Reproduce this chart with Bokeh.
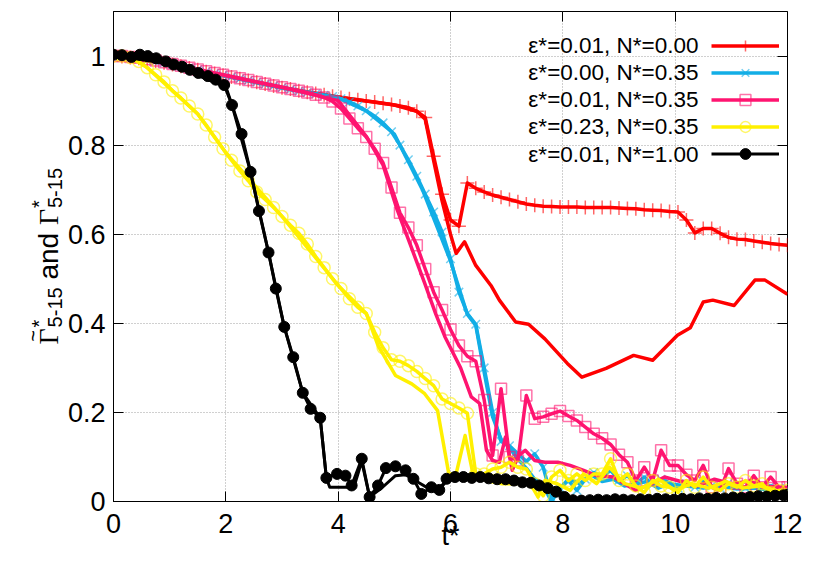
from bokeh.plotting import figure
from bokeh.layouts import row
from bokeh.models import (Range1d, FixedTicker, LinearAxis, CustomJSTickFormatter,
                          Label, Legend, LegendItem)
from bokeh.embed import file_html
from bokeh.resources import INLINE
import math

# ---------------- data ----------------
T = [0.00, 0.15, 0.30, 0.45, 0.60, 0.75, 0.90, 1.05, 1.20, 1.35, 1.50, 1.65, 1.80, 1.95,
     2.10, 2.25, 2.40, 2.55, 2.70, 2.85, 3.00, 3.15, 3.30, 3.45, 3.60, 3.75, 3.90, 4.05,
     4.20, 4.35, 4.50, 4.65, 4.80, 4.95, 5.10, 5.25, 5.40, 5.55, 5.70, 5.85, 6.00, 6.15,
     6.30, 6.45, 6.60, 6.75, 6.90, 7.05, 7.20, 7.35, 7.50, 7.65, 7.80, 7.95, 8.10, 8.25,
     8.40, 8.55, 8.70, 8.85, 9.00, 9.15, 9.30, 9.45, 9.60, 9.75, 9.90, 10.05, 10.20, 10.35,
     10.50, 10.65, 10.80, 10.95, 11.10, 11.25, 11.40, 11.55, 11.70, 11.85, 12.00]

# eps*=0.01, N*=0.00  (red)
RED_M = [1.000, 0.999, 0.997, 0.995, 0.992, 0.989, 0.985, 0.981, 0.977, 0.973, 0.969, 0.965,
         0.961, 0.957, 0.953, 0.949, 0.945, 0.941, 0.937, 0.933, 0.929, 0.926, 0.922, 0.919,
         0.916, 0.913, 0.910,
         0.907, 0.904, 0.902, 0.899, 0.897, 0.894, 0.891, 0.888, 0.884, 0.876, 0.862, 0.775, 0.690,
         0.632, 0.618, 0.715, 0.703, 0.695, 0.688, 0.683, 0.678, 0.673, 0.668, 0.665, 0.663, 0.662,
         0.661, 0.661, 0.661, 0.660, 0.660, 0.660, 0.660, 0.659, 0.658, 0.657, 0.655, 0.654, 0.653, 0.651,
         0.650, 0.632, 0.603, 0.613, 0.613, 0.602, 0.593, 0.589, 0.588, 0.585, 0.582, 0.579, 0.577, 0.575]
RED_P_T = [0, 1.0, 2.0, 3.0, 4.0, 5.0, 5.4, 5.55, 5.7, 5.85, 6.0, 6.1, 6.25, 6.45, 6.72, 6.87,
           7.16, 7.39, 7.68, 8.08, 8.34, 8.77, 9.26, 9.6, 10.04, 10.27, 10.5, 10.67, 11.05,
           11.42, 11.6, 12.0]
RED_P = [1.0, 0.982, 0.955, 0.929, 0.908, 0.890, 0.876, 0.858, 0.765, 0.675, 0.600, 0.557,
         0.583, 0.530, 0.485, 0.452, 0.403, 0.398, 0.365, 0.310, 0.279, 0.299, 0.328, 0.317,
         0.373, 0.390, 0.448, 0.452, 0.440, 0.497, 0.497, 0.465]

# eps*=0.00, N*=0.35  (cyan)
CYA_M = [1.000, 0.999, 0.997, 0.995, 0.992, 0.989, 0.985, 0.981, 0.977, 0.973, 0.969, 0.965,
         0.961, 0.957, 0.953, 0.949, 0.945, 0.941, 0.937, 0.933, 0.929, 0.925, 0.921, 0.918,
         0.915, 0.912, 0.909,
         0.904, 0.897, 0.888, 0.877, 0.865, 0.850, 0.830, 0.800, 0.767, 0.730, 0.690, 0.650, 0.605,
         0.545, 0.470, 0.422, 0.398, 0.300, 0.200, 0.135, 0.125, 0.107, 0.090, 0.107, 0.077, 0.008,
         0.030, 0.047, 0.025, 0.050, 0.065, 0.055, 0.070, 0.048, 0.058, 0.040, 0.055, 0.038, 0.050, 0.042,
         0.030, 0.040, 0.032, 0.045, 0.035, 0.030, 0.042, 0.035, 0.030, 0.038, 0.028, 0.035, 0.030, 0.028]
CYA_P_T = [0, 1, 2, 3, 4, 4.5, 5.0, 5.5, 6.0, 6.3, 6.45, 6.6, 6.75, 6.9, 7.05, 7.2, 7.35, 7.5,
           7.65, 7.8, 7.95, 8.1, 8.3, 8.5, 8.7, 8.9, 9.1, 9.3, 9.5, 9.7, 9.9, 10.2, 10.5, 10.8,
           11.1, 11.4, 11.7, 12.0]
CYA_P = [1.0, 0.981, 0.955, 0.929, 0.906, 0.877, 0.825, 0.70, 0.54, 0.42, 0.395, 0.29, 0.19,
         0.14, 0.12, 0.095, 0.075, 0.05, 0.035, 0.0, 0.03, 0.05, 0.04, 0.06, 0.045, 0.05, 0.035,
         0.04, 0.045, 0.03, 0.04, 0.035, 0.03, 0.035, 0.028, 0.03, 0.025, 0.027]

# eps*=0.01, N*=0.35  (pink)
PNK_M = [1.000, 1.000, 0.998, 0.996, 0.993, 0.990, 0.986, 0.982, 0.978, 0.974, 0.970, 0.966,
         0.962, 0.958, 0.954, 0.950, 0.946, 0.942, 0.938, 0.934, 0.930, 0.926, 0.922, 0.918,
         0.913, 0.907, 0.898,
         0.882, 0.860, 0.838, 0.818, 0.792, 0.760, 0.705, 0.648, 0.615, 0.575, 0.522, 0.470, 0.430,
         0.386, 0.350, 0.326, 0.315, 0.228, 0.103, 0.253, 0.100, 0.092, 0.238, 0.186, 0.190, 0.197,
         0.203, 0.192, 0.182, 0.167, 0.152, 0.142, 0.128, 0.105, 0.088, 0.047, 0.077, 0.047, 0.115, 0.081,
         0.081, 0.060, 0.047, 0.081, 0.032, 0.025, 0.074, 0.040, 0.032, 0.058, 0.032, 0.055, 0.032, 0.032]
PNK_P_T = [0, 1, 2, 3, 4, 4.5, 4.8, 5.05, 5.14, 5.31, 5.54, 5.74, 5.9, 6.06, 6.18, 6.37, 6.52,
           6.64, 6.75, 6.87, 6.98, 7.1, 7.21, 7.33, 7.5, 7.68, 7.91, 8.13, 8.37, 8.6, 8.9, 9.29,
           9.58, 9.81, 10.1, 10.4, 10.7, 11.0, 11.3, 11.6, 12.0]
PNK_P = [1.0, 0.982, 0.956, 0.93, 0.90, 0.82, 0.755, 0.655, 0.625, 0.568, 0.49, 0.42, 0.37,
         0.33, 0.30, 0.235, 0.22, 0.115, 0.092, 0.088, 0.145, 0.07, 0.103, 0.115, 0.092, 0.088,
         0.088, 0.081, 0.07, 0.058, 0.055, 0.025, 0.04, 0.055, 0.045, 0.035, 0.05, 0.04, 0.045,
         0.035, 0.03]

# eps*=0.23, N*=0.35  (yellow)
YEL_M = [1.000, 1.000, 0.997, 0.988, 0.974, 0.958, 0.942, 0.922, 0.906, 0.888, 0.870, 0.845,
         0.818, 0.792, 0.766, 0.742, 0.720, 0.695, 0.678, 0.660, 0.640, 0.620, 0.602, 0.578,
         0.550, 0.525, 0.500, 0.478, 0.455, 0.436, 0.422, 0.380, 0.345, 0.318, 0.315, 0.305,
         0.292, 0.276, 0.260, 0.230, 0.220, 0.210, 0.198, 0.062, 0.062, 0.073, 0.077, 0.088,
         0.077, 0.073, 0.040, 0.013, 0.055, 0.070, 0.047, 0.062, 0.047, 0.062, 0.062, 0.096,
         0.047, 0.062, 0.035, 0.020, 0.047, 0.035, 0.032, 0.020, 0.047, 0.032, 0.055, 0.032,
         0.025, 0.040, 0.032, 0.047, 0.035, 0.040, 0.020, 0.025, 0.025]
YEL_P_T = [0, 0.3, 0.6, 1.0, 1.5, 2.0, 3.0, 4.0, 4.5, 4.71, 5.02, 5.31, 5.54, 5.77, 5.97, 6.1,
           6.26, 6.4, 6.64, 6.92, 7.16, 7.39, 7.56, 7.68, 7.9, 8.13, 8.37, 8.6, 8.83, 9.1, 9.4,
           9.7, 10.0, 10.3, 10.6, 10.9, 11.2, 11.5, 11.8, 12.0]
YEL_P = [1.0, 0.997, 0.974, 0.928, 0.870, 0.783, 0.640, 0.485, 0.422, 0.35, 0.283, 0.264,
         0.242, 0.204, 0.062, 0.062, 0.148, 0.062, 0.047, 0.04, 0.04, 0.047, 0.01, 0.047, 0.04,
         0.025, 0.062, 0.04, 0.077, 0.04, 0.03, 0.05, 0.025, 0.04, 0.03, 0.045, 0.03, 0.035,
         0.025, 0.02]

# eps*=0.01, N*=1.00  (black)
BLK_T = [0.00, 0.15, 0.32, 0.47, 0.61, 0.76, 0.93, 1.07, 1.22, 1.36, 1.51, 1.68, 1.82, 1.97,
         2.11, 2.28, 2.44, 2.59, 2.76, 2.89, 3.04, 3.20, 3.37, 3.51, 3.68, 3.79, 3.98, 4.13,
         4.24, 4.42, 4.56, 4.71, 4.85, 5.02, 5.20, 5.34, 5.48, 5.66, 5.80, 5.93, 6.08, 6.23,
         6.38, 6.53, 6.68, 6.83, 6.98, 7.13, 7.28, 7.43, 7.58, 7.73, 7.88, 8.03, 8.18, 8.33,
         8.48, 8.63, 8.78, 8.93, 9.08, 9.23, 9.38, 9.53, 9.68, 9.83, 9.98, 10.13, 10.28, 10.43,
         10.58, 10.73, 10.88, 11.03, 11.18, 11.33, 11.48, 11.63, 11.78, 11.93, 12.00]
BLK_M = [1.003, 1.002, 0.998, 1.003, 1.000, 0.995, 0.988, 0.981, 0.976, 0.969, 0.962, 0.955,
         0.947, 0.935, 0.890, 0.825, 0.740, 0.652, 0.559, 0.478, 0.392, 0.324, 0.244, 0.208,
         0.188, 0.053, 0.062, 0.058, 0.036, 0.096, 0.010, 0.036, 0.075, 0.079, 0.070, 0.051,
         0.017, 0.032, 0.026, 0.051, 0.055, 0.055, 0.053, 0.055, 0.052, 0.050, 0.050, 0.047,
         0.043, 0.042, 0.036, 0.030, 0.022, 0.010, 0.003, 0.002, 0.003, 0.004, 0.003, 0.005,
         0.004, 0.003, 0.005, 0.004, 0.006, 0.005, 0.004, 0.006, 0.005, 0.007, 0.006, 0.008,
         0.007, 0.009, 0.008, 0.010, 0.012, 0.011, 0.013, 0.014, 0.015]
BLK_P_T = [0, 1, 2.0, 2.11, 2.44, 2.76, 3.04, 3.37, 3.68, 3.79, 3.85, 4.16, 4.3, 4.42, 4.56,
           4.79, 5.02, 5.2, 5.4, 5.6, 5.8, 5.95, 6.2, 6.6, 7.0, 7.4, 7.8, 8.1, 8.5, 9.0, 9.5,
           10.0, 10.5, 11.0, 11.5, 12.0]
BLK_P = [1.002, 0.982, 0.931, 0.89, 0.74, 0.559, 0.392, 0.244, 0.188, 0.053, 0.032, 0.032,
         0.04, 0.09, 0.01, 0.032, 0.058, 0.06, 0.045, 0.03, 0.026, 0.05, 0.055, 0.052, 0.05,
         0.042, 0.025, 0.004, 0.003, 0.004, 0.005, 0.005, 0.006, 0.008, 0.011, 0.014]

LABELS = ["ε*=0.01, N*=0.00", "ε*=0.00, N*=0.35", "ε*=0.01, N*=0.35",
          "ε*=0.23, N*=0.35", "ε*=0.01, N*=1.00"]
X_TICKS = [0, 2, 4, 6, 8, 10, 12]
Y_TICKS = [0, 0.2, 0.4, 0.6, 0.8, 1.0]
X_TITLE = "t*"

for a, b in [(T, RED_M), (T, CYA_M), (T, PNK_M), (T, YEL_M), (BLK_T, BLK_M),
             (RED_P_T, RED_P), (CYA_P_T, CYA_P), (PNK_P_T, PNK_P), (YEL_P_T, YEL_P),
             (BLK_P_T, BLK_P)]:
    assert len(a) == len(b), (len(a), len(b))

# ---------------- layout (pixels) ----------------
W, H = 803, 554
LW = 64                                     # width of the y-title strip
FL, FR, FT, FB = 113, 787, 11, 501          # frame edges in page pixels
X0, X1, Y0, Y1 = 0, 12, 0, 1.1


def dx(px):   # page px -> data x (annotation anchors only)
    return X0 + (px - FL) * (X1 - X0) / (FR - FL)


def dy(py):   # page px -> data y (annotation anchors only)
    return Y0 + (FB - py) * (Y1 - Y0) / (FB - FT)


FONT = "Liberation Sans"
SERIF = "Liberation Serif"

# ---------------- y title strip (its own small canvas, frame aligned with main) ----------------
pl = figure(width=LW, height=H, output_backend="svg", toolbar_location=None,
            x_range=Range1d(0, LW), y_range=Range1d(FB, FT),
            x_axis_type=None, y_axis_type=None,
            min_border_left=0, min_border_right=0, min_border_top=FT,
            min_border_bottom=H - FB)
pl.outline_line_color = None
pl.background_fill_color = "white"
pl.border_fill_color = "white"
pl.xgrid.visible = False
pl.ygrid.visible = False

ROT = math.pi / 2
BASE = 48      # baseline x of the main title text
pieces = [
    # text, font, size, baseline x, start y (lower end), align
    ("Γ", SERIF, "28px", BASE, 344, "left"),
    ("~", FONT, "20px", 32, 335.5, "center"),
    ("*", FONT, "20px", 38, 326.9, "left"),
    ("5-15", FONT, "20px", 54, 326.9, "left"),
    ("and", FONT, "28px", BASE, 279.1, "left"),
    ("Γ", SERIF, "28px", BASE, 224.6, "left"),
    ("*", FONT, "20px", 38, 207.5, "left"),
    ("5-15", FONT, "20px", 54, 207.5, "left"),
]
for txt, fnt, fs, bx, sy, al in pieces:
    pl.add_layout(Label(x=bx, y=sy, text=txt, angle=ROT, text_align=al,
                        text_baseline="alphabetic", text_font=fnt, text_font_size=fs,
                        text_color="black"))

# ---------------- main plot ----------------
p = figure(width=W - LW, height=H, output_backend="svg", toolbar_location=None,
           x_range=Range1d(X0, X1), y_range=Range1d(Y0, Y1),
           min_border_left=FL - LW, min_border_right=W - FR, min_border_top=FT,
           min_border_bottom=H - FB)
p.background_fill_color = "white"
p.border_fill_color = "white"
p.outline_line_color = "black"
p.outline_line_width = 1

xa = p.below[0]
xa.ticker = FixedTicker(ticks=X_TICKS)
ya = p.left[0]
ya.ticker = FixedTicker(ticks=Y_TICKS)
ya.formatter = CustomJSTickFormatter(code="return (Math.round(tick*10)/10).toString();")
for ax in (xa, ya):
    ax.major_tick_in = 10
    ax.major_tick_out = 0
    ax.minor_tick_in = 0
    ax.minor_tick_out = 0
    ax.axis_line_color = "black"
    ax.major_tick_line_color = "black"
    ax.major_label_text_font = FONT
    ax.major_label_text_font_size = "27px"
    ax.major_label_text_color = "black"
xa.major_label_standoff = 12
ya.major_label_standoff = 8
xa.axis_label = X_TITLE
xa.axis_label_text_font = FONT
xa.axis_label_text_font_size = "27px"
xa.axis_label_text_font_style = "normal"
xa.axis_label_text_color = "black"
xa.axis_label_standoff = -15

# mirrored ticks on top and right (no labels)
top = LinearAxis(ticker=FixedTicker(ticks=X_TICKS), formatter=CustomJSTickFormatter(code="return '';"),
                 major_tick_in=10, major_tick_out=0, minor_tick_in=0, minor_tick_out=0,
                 axis_line_color=None, major_label_text_font_size="0px", major_label_standoff=0)
right = LinearAxis(ticker=FixedTicker(ticks=Y_TICKS), formatter=CustomJSTickFormatter(code="return '';"),
                   major_tick_in=10, major_tick_out=0, minor_tick_in=0, minor_tick_out=0,
                   axis_line_color=None, major_label_text_font_size="0px", major_label_standoff=0)
p.add_layout(top, "above")
p.add_layout(right, "right")

for g in (p.xgrid[0], p.ygrid[0]):
    g.grid_line_color = "#a0a0a0"
    g.grid_line_dash = "1 2"
    g.grid_line_width = 1

series = [
    (T, RED_M, RED_P_T, RED_P, "#ff0000", "cross", 14, 3.5),
    (T, CYA_M, CYA_P_T, CYA_P, "#12aee6", "x", 12, 3.5),
    (T, PNK_M, PNK_P_T, PNK_P, "#ff1470", "square", 11, 3.5),
    (T, YEL_M, YEL_P_T, YEL_P, "#fff000", "circle", 12, 3.5),
    (BLK_T, BLK_M, BLK_P_T, BLK_P, "#000000", "circle", 11, 3.0),
]
items = []
for (tm, ym, tp, yp, col, mk, sz, lw), lab in zip(series, LABELS):
    p.line(tp, yp, line_color=col, line_width=lw, line_join="round")
    lr = p.line(tm, ym, line_color=col, line_width=lw, line_join="round")
    if col == "#000000":
        sr = p.scatter(tm, ym, marker=mk, size=sz, fill_color=col, line_color=col)
    else:
        sr = p.scatter(tm, ym, marker=mk, size=sz, fill_color=None, line_color=col,
                       line_alpha=0.6, line_width=1.5)
    items.append(LegendItem(label="", renderers=[lr, sr]))

# legend: samples via Legend (right), text via Labels (left), gnuplot style
leg = Legend(items=items, location=(598, 334), orientation="vertical",
             glyph_width=68, glyph_height=27, spacing=0, padding=0, margin=0,
             label_standoff=0, label_width=0, label_height=0, label_text_font_size="1px",
             border_line_color=None, background_fill_alpha=0)
p.add_layout(leg, "center")

ROW_PY = [44.5, 72, 99, 126, 153.5]
for lab, py in zip(LABELS, ROW_PY):
    p.add_layout(Label(x=dx(698), y=dy(py), text=lab, text_align="right", text_baseline="middle",
                       text_font=FONT, text_font_size="22.5px", text_color="black"))

layout = row(pl, p, spacing=0)
open("out.html", "w").write(file_html(layout, INLINE))
